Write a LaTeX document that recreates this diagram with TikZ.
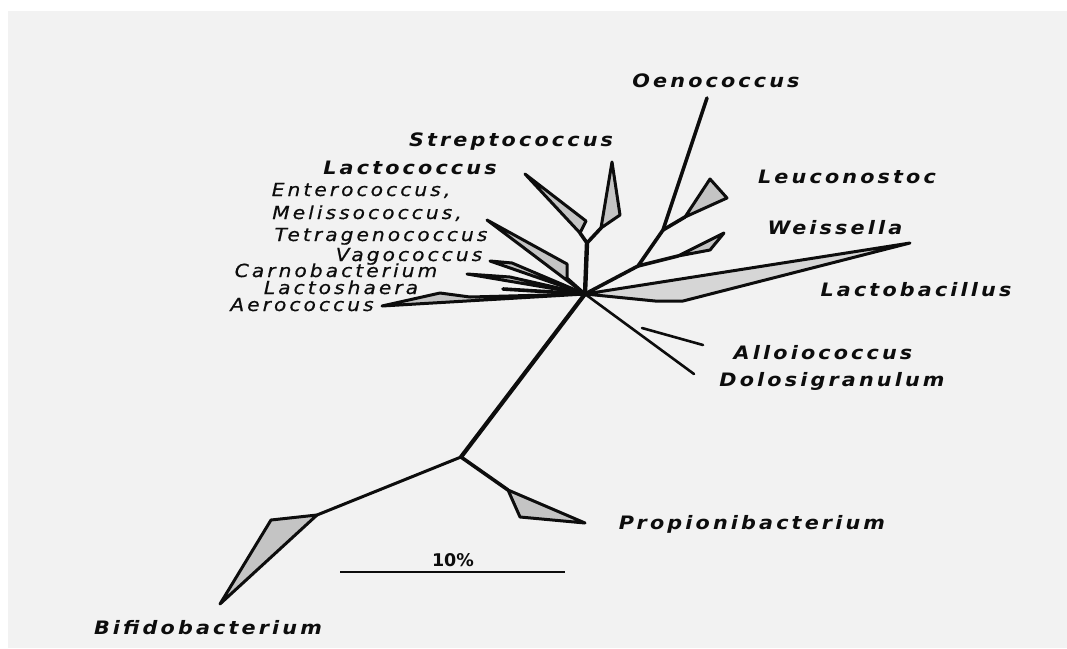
\documentclass[tikz,border=0pt]{standalone}
\usepackage{fontspec}
\setmainfont{DejaVu Sans}
\newfontfamily\labfont[LetterSpace=17, FakeStretch=1.12, FakeBold=0.6]{DejaVu Sans}
\newfontfamily\blabfont[LetterSpace=17, FakeStretch=1.12]{DejaVu Sans}
\definecolor{panel}{HTML}{F2F2F2}
\definecolor{ink}{HTML}{0D0D0D}
\definecolor{trigray}{HTML}{C4C4C4}
\definecolor{lbgray}{HTML}{D6D6D6}
\begin{document}
\begin{tikzpicture}[x=1pt,y=-1pt,
  br/.style={draw=ink, line width=3.6pt, line cap=round, line join=round},
  thinbr/.style={draw=ink, line width=2.6pt, line cap=round},
  tri/.style={draw=ink, fill=trigray, line width=3pt, line join=round},
  lab/.style={font=\labfont\fontsize{18}{21}\selectfont\itshape, anchor=base, inner sep=0pt, text=ink},
  blab/.style={font=\blabfont\fontsize{18.5}{22}\selectfont\bfseries\itshape, anchor=base, inner sep=0pt, text=ink}]
\useasboundingbox (0,0) rectangle (1067,648);
\fill[white] (0,0) rectangle (1067,648);
\fill[panel] (8,11) rectangle (1067,648);
% coordinates
\coordinate (H) at (585,294);
\coordinate (F) at (587,243);
\coordinate (lcA) at (580,233); \coordinate (lcB) at (525,174); \coordinate (lcC) at (586,221);
\coordinate (stA) at (601,228); \coordinate (stB) at (612,162); \coordinate (stC) at (620,215);
\coordinate (enA) at (487,220); \coordinate (enB) at (567,264); \coordinate (enC) at (567,278);
\coordinate (vaA) at (490,261); \coordinate (vaB) at (512,263);
\coordinate (caA) at (467,274); \coordinate (caB) at (510,277);
\coordinate (lsA) at (503,289);
\coordinate (aeA) at (382,306); \coordinate (aeB) at (440,293); \coordinate (aeC) at (470,297);
\coordinate (lbA) at (910,243); \coordinate (lbB) at (683,301); \coordinate (lbC) at (655,301);
\coordinate (W) at (638,266);
\coordinate (wsA) at (678,256); \coordinate (wsB) at (724,233); \coordinate (wsC) at (710,250);
\coordinate (L) at (663,230);
\coordinate (luA) at (685,217); \coordinate (luB) at (710,179); \coordinate (luC) at (727,198);
\coordinate (oe) at (707,98);
\coordinate (AD) at (642,328); \coordinate (al) at (703,345); \coordinate (do) at (694,374);
\coordinate (B) at (461,457);
\coordinate (bf) at (317,515); \coordinate (bfA) at (271,520); \coordinate (bfB) at (220,604);
\coordinate (pr) at (508,490); \coordinate (prA) at (520,517); \coordinate (prB) at (585,523);
\coordinate (sb1) at (340,572); \coordinate (sb2) at (565,572);
% filled clades
\filldraw[tri, fill=lbgray] (H) -- (lbA) -- (lbB) -- (lbC) -- cycle;
\filldraw[tri] (lcA) -- (lcB) -- (lcC) -- cycle;
\filldraw[tri] (stA) -- (stB) -- (stC) -- cycle;
\filldraw[tri] (enA) -- (enB) -- (enC) -- (H) -- cycle;
\filldraw[tri] (vaA) -- (vaB) -- (H) -- cycle;
\filldraw[tri] (caA) -- (caB) -- (H) -- cycle;
\filldraw[tri] (aeA) -- (aeB) -- (aeC) -- (H) -- cycle;
\filldraw[tri] (wsA) -- (wsB) -- (wsC) -- cycle;
\filldraw[tri] (luA) -- (luB) -- (luC) -- cycle;
\filldraw[tri] (bf) -- (bfA) -- (bfB) -- cycle;
\filldraw[tri] (pr) -- (prA) -- (prB) -- cycle;
% branches
\draw[br, line width=4.2pt] (H) -- (B);
\draw[br, line width=3pt] (B) -- (bf);
\draw[br] (B) -- (pr);
\draw[br, line width=4.4pt] (H) -- (F);
\draw[br] (F) -- (lcA);
\draw[br] (F) -- (stA);
\draw[br] (lsA) -- (H);
\draw[br] (H) -- (W) -- (L) -- (oe);
\draw[br] (W) -- (wsA);
\draw[br] (L) -- (luA);
\draw[thinbr] (H) -- (do);
\draw[thinbr] (AD) -- (al);
\draw[draw=ink, line width=1.6pt] (sb1) -- (sb2);
% labels
\node[blab] (tOe) at (716,87) {Oenococcus};
\node[blab] (tSt) at (511,146) {Streptococcus};
\node[blab] (tLc) at (410,174) {Lactococcus};
\node[lab] (tEn) at (361,196) {Enterococcus,};
\node[lab] (tMe) at (367,219) {Melissococcus,};
\node[lab] (tTe) at (381,241) {Tetragenococcus};
\node[lab] (tVa) at (409,261) {Vagococcus};
\node[lab] (tCa) at (336,277) {Carnobacterium};
\node[lab] (tLs) at (341,294) {Lactoshaera};
\node[lab] (tAe) at (302,311) {Aerococcus};
\node[blab] (tLu) at (847,183) {Leuconostoc};
\node[blab] (tWe) at (835,234) {Weissella};
\node[blab] (tLb) at (916,296) {Lactobacillus};
\node[blab] (tAl) at (823,359) {Alloiococcus};
\node[blab] (tDo) at (832,386) {Dolosigranulum};
\node[blab] (tPr) at (752,529) {Propionibacterium};
\node[font=\bfseries\fontsize{17.5}{20}\selectfont, anchor=base, inner sep=0pt, text=ink] (tSc) at (453,566) {10\%};
\node[blab] (tBi) at (208,634) {Bifidobacterium};
\end{tikzpicture}
\end{document}
